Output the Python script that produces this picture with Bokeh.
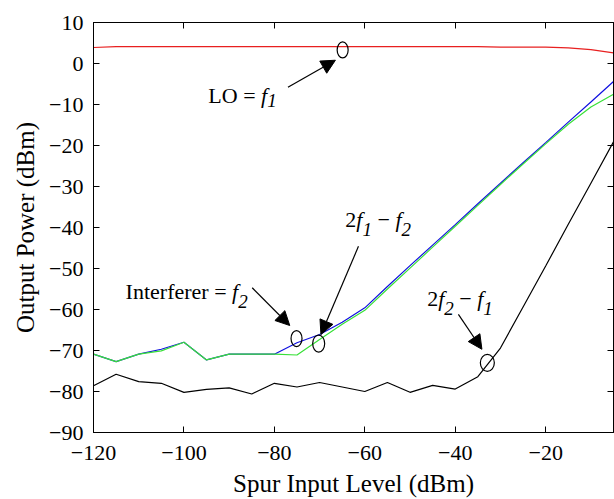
from bokeh.plotting import figure
from bokeh.models import (Range1d, LinearAxis, FixedTicker, Label, Arrow,
                          NormalHead, ColumnDataSource, CustomLabelingPolicy)
from bokeh.embed import file_html
from bokeh.resources import INLINE

# ---------------- data ----------------
spur_in = [-120, -115, -110, -105, -100, -95, -90, -85, -80, -75, -70, -65,
           -60, -55, -50, -45, -40, -35, -30, -25, -20, -15, -10, -5]
lo_f1 = [3.9, 4.1, 4.1, 4.1, 4.1, 4.1, 4.1, 4.1, 4.1, 4.1, 4.1, 4.1,
         4.1, 4.1, 4.1, 4.1, 4.1, 4.1, 4.0, 4.0, 4.0, 3.8, 3.4, 2.6]
interferer_f2 = [-70.9, -72.7, -70.9, -69.7, -68.0, -72.3, -70.9, -70.9, -70.9, -68.1, -66.1, -63.1,
                 -59.6, -54.4, -49.3, -44.3, -39.3, -34.2, -29.2, -24.2, -19.3, -14.3, -9.4, -4.4]
im_2f1_f2 = [-70.9, -72.7, -70.9, -70.1, -68.0, -72.3, -70.9, -70.9, -70.9, -71.1, -67.3, -63.6,
             -60.2, -55.0, -49.9, -44.8, -39.7, -34.6, -29.5, -24.5, -19.6, -14.8, -10.6, -7.5]
im_2f2_f1 = [-78.6, -75.8, -77.6, -78.0, -80.2, -79.5, -79.1, -80.6, -78.0, -78.9, -77.8, -78.9,
             -80.0, -77.8, -80.2, -78.5, -79.4, -76.4, -69.4, -59.4, -49.4, -39.2, -29.2, -19.1]

x_ticks = [-120, -100, -80, -60, -40, -20]
x_tick_labels = ["\u2212120", "\u2212100", "\u221280", "\u221260", "\u221240", "\u221220"]
y_ticks = [-90, -80, -70, -60, -50, -40, -30, -20, -10, 0, 10]
y_tick_labels = ["\u221290", "\u221280", "\u221270", "\u221260", "\u221250", "\u221240",
                 "\u221230", "\u221220", "\u221210", "0", "10"]

FONT = "Liberation Serif"

p = figure(width=614, height=499, output_backend="svg", toolbar_location=None,
           x_range=Range1d(-120, -5), y_range=Range1d(-90, 10),
           min_border_left=93, min_border_right=1, min_border_top=22,
           min_border_bottom=66)
p.xgrid.visible = False
p.ygrid.visible = False
p.outline_line_color = "black"
p.outline_line_width = 1
p.background_fill_color = "white"
p.border_fill_color = "white"


def style_axis(ax, ticks, labels, show_labels=True):
    ax.ticker = FixedTicker(ticks=ticks)
    ax.major_label_overrides = {t: l for t, l in zip(ticks, labels)}
    ax.major_tick_in = 6
    ax.major_tick_out = 0
    ax.minor_tick_in = 0
    ax.minor_tick_out = 0
    ax.major_tick_line_color = "black"
    ax.axis_line_color = "black"
    ax.major_label_text_font = FONT
    ax.major_label_text_font_style = "normal"
    ax.major_label_text_color = "black"
    if show_labels:
        ax.major_label_text_font_size = "22px"
    else:
        ax.major_label_text_font_size = "0px"
        ax.major_label_standoff = 0
        ax.major_label_policy = CustomLabelingPolicy(code="return new Set()")


xa = p.xaxis[0]
style_axis(xa, x_ticks, x_tick_labels)
xa.major_label_standoff = 13
xa.axis_label = "Spur Input Level (dBm)"
xa.axis_label_text_font = FONT
xa.axis_label_text_font_size = "25px"
xa.axis_label_text_font_style = "normal"
xa.axis_label_text_color = "black"
xa.axis_label_standoff = 7

ya = p.yaxis[0]
style_axis(ya, y_ticks, y_tick_labels)
ya.major_label_standoff = 10
ya.axis_label = "Output Power (dBm)"
ya.axis_label_text_font = FONT
ya.axis_label_text_font_size = "25px"
ya.axis_label_text_font_style = "normal"
ya.axis_label_text_color = "black"
ya.axis_label_standoff = 7

top = LinearAxis()
style_axis(top, x_ticks, x_tick_labels, show_labels=False)
p.add_layout(top, "above")
right = LinearAxis()
style_axis(right, y_ticks, y_tick_labels, show_labels=False)
p.add_layout(right, "right")

src = ColumnDataSource(dict(x=spur_in, lo=lo_f1, f2=interferer_f2,
                            a=im_2f1_f2, b=im_2f2_f1))
p.line("x", "lo", source=src, line_color="#e82020", line_width=1.2)
p.line("x", "f2", source=src, line_color="#1010e0", line_width=1.2)
p.line("x", "a", source=src, line_color="#38e038", line_width=1.2)
p.line("x", "b", source=src, line_color="black", line_width=1.2)

# ---------------- annotations ----------------
NB = "\u00a0"
W_REG = {'2': .5, '1': .5, ' ': .25, NB: .25, '=': .564, '\u2212': .564, 'L': .611, 'O': .722,
         'I': .333, 'n': .5, 't': .278, 'e': .444, 'r': .333, 'f': .333}
W_IT = {'f': .278, '1': .5, '2': .5}


def rich(x, y, pieces, size=22, sub_size=19, drop=10):
    off = 0.0
    for text, italic, sub in pieces:
        fs = sub_size if sub else size
        p.add_layout(Label(x=x, y=y, x_offset=off, y_offset=-drop if sub else 0,
                           text=text, text_font=FONT, text_font_size=f"{fs}px",
                           text_font_style="italic" if italic else "normal",
                           text_color="black", text_align="left",
                           text_baseline="alphabetic"))
        table = W_IT if italic else W_REG
        off += sum(table.get(c, .5) for c in text) * fs


def mark(cx, cy, w, h, x0, y0, x1, y1):
    p.ellipse(x=[cx], y=[cy], width=w, height=h, width_units="screen",
              height_units="screen", fill_color=None, line_color="black", line_width=1.2)
    p.add_layout(Arrow(end=NormalHead(size=14, fill_color="black", line_color="black"),
                       x_start=x0, y_start=y0, x_end=x1, y_end=y1,
                       line_color="black", line_width=1.2))


rich(-94.6, -7.7, [("LO" + NB + "=" + NB, False, False), ("f", True, False), ("1", True, True)], drop=5)
mark(-64.9, 3.3, 11, 16, -77.0, -5.8, -66.5, 0.8)

rich(-112.9, -55.5, [("Interferer" + NB + "=" + NB, False, False), ("f", True, False), ("2", True, True)])
mark(-75.1, -67.1, 11, 16, -84.9, -54.7, -76.6, -63.9)

rich(-64.3, -38.1, [("2", False, False), ("f", True, False), ("1", True, True),
                    (NB + "\u2212" + NB, False, False), ("f", True, False), ("2", True, True)])
mark(-70.2, -68.3, 12, 17, -61.4, -44.6, -69.7, -66.1)

rich(-46.2, -57.4, [("2", False, False), ("f", True, False), ("2", True, True),
                    (NB + "\u2212" + NB, False, False), ("f", True, False), ("1", True, True)])
mark(-32.9, -73.0, 14, 17, -39.3, -61.2, -34.1, -69.7)

open("out.html", "w").write(file_html(p, INLINE))
